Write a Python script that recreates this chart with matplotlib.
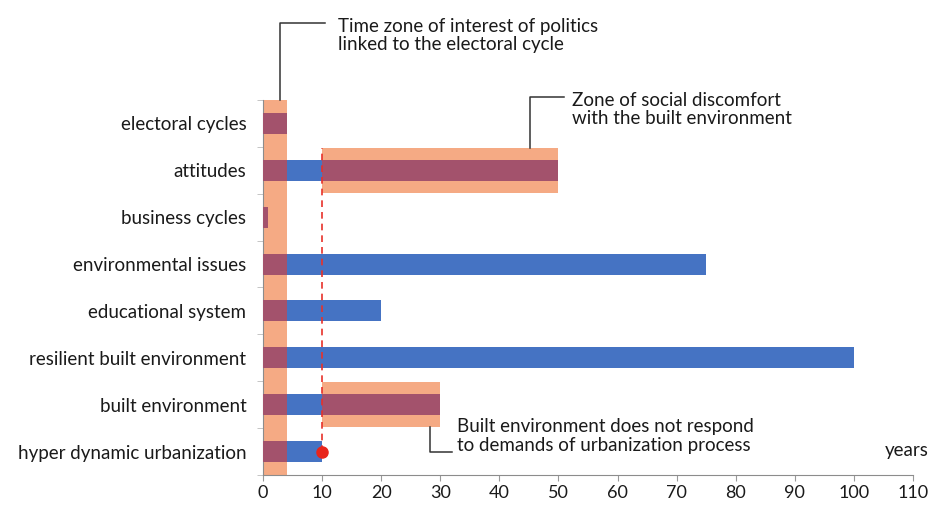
import matplotlib.pyplot as plt
from matplotlib.patches import Rectangle

# categories listed bottom to top
categories = ["hyper dynamic urbanization", "built environment",
              "resilient built environment", "educational system",
              "environmental issues", "business cycles", "attitudes",
              "electoral cycles"]
years = [10, 30, 100, 20, 75, 0.9, 50, 4]

# highlighted zones: (x start, x end, row index or None for full height)
politics_zone = (0, 4)
discomfort_zone = (10, 50, 6)
unresponsive_zone = (10, 30, 1)
threshold = 10

xticks = list(range(0, 111, 10))

BLUE = "#4573c3"
ORANGE = "#f5aa84"
DARK = "#a3526c"
FONT = ["Lato", "DejaVu Sans"]
FS = 13.5

plt.rcParams["font.family"] = FONT
plt.rcParams["text.color"] = "#1a1a1a"
fig = plt.figure(figsize=(9.31, 5.11), dpi=100)
ax = fig.add_axes([0.2825, 0.0705, 0.6982, 0.7338])

ypos = list(range(len(categories)))
bh = 0.45

# orange zones
zones = []
z = Rectangle((politics_zone[0], -0.5), politics_zone[1] - politics_zone[0], len(categories),
              facecolor=ORANGE, edgecolor="none", zorder=1)
ax.add_patch(z)
zones.append(z)
for x0, x1, row in [discomfort_zone, unresponsive_zone]:
    z = Rectangle((x0, row - 0.48), x1 - x0, 0.96, facecolor=ORANGE,
                  edgecolor="none", zorder=1)
    ax.add_patch(z)
    zones.append(z)

# blue bars
ax.barh(ypos, years, height=bh, color=BLUE, zorder=2)

# darker overlap where bars cross the orange zones
for z in zones:
    bars = ax.barh(ypos, years, height=bh, color=DARK, zorder=3)
    for b in bars:
        b.set_clip_path(z)

# threshold line and point
ax.plot([threshold, threshold], [0, discomfort_zone[2] + 0.48], color="#e8312a",
        ls=(0, (4, 3)), lw=1.2, zorder=4)
ax.plot(threshold, 0, "o", color="#e8251c", ms=8, zorder=5)

ax.set_xlim(0, 110)
ax.set_ylim(-0.5, len(categories) - 0.5)
ax.set_xticks(xticks)
ax.set_yticks(ypos)
ax.set_yticklabels(categories)
ax.set_yticks([i + 0.5 for i in range(-1, len(categories))], minor=True)
ax.tick_params(axis="y", which="major", length=0, labelsize=FS, pad=12, labelcolor="#1a1a1a")
ax.tick_params(axis="y", which="minor", length=4, color="#bbbbbb")
ax.tick_params(axis="x", length=4, color="#999999", labelsize=13, labelcolor="#1a1a1a")
for s in ["top", "right"]:
    ax.spines[s].set_visible(False)
for s in ["left", "bottom"]:
    ax.spines[s].set_color("#8c8c8c")

# annotations
kw = dict(color="#333333", lw=1.1, clip_on=False, zorder=6)
ax.plot([10.5, 2.9, 2.9], [9.14, 9.14, 7.5], **kw)
ax.text(12.7, 8.88, "Time zone of interest of politics\nlinked to the electoral cycle",
        fontsize=FS, va="center", ha="left", linespacing=1.1)

ax.plot([51, 45.2, 45.2], [7.56, 7.56, 6.48], **kw)
ax.text(52.3, 7.3, "Zone of social discomfort\nwith the built environment",
        fontsize=FS, va="center", ha="left", linespacing=1.1)

ax.plot([28.3, 28.3, 32], [0.52, 0.0, 0.0], **kw)
ax.text(32.8, 0.33, "Built environment does not respond\nto demands of urbanization process",
        fontsize=FS, va="center", ha="left", linespacing=1.1)

ax.text(105.2, 0.03, "years", fontsize=FS, va="center", ha="left")

fig.savefig("out.png", dpi=100)
